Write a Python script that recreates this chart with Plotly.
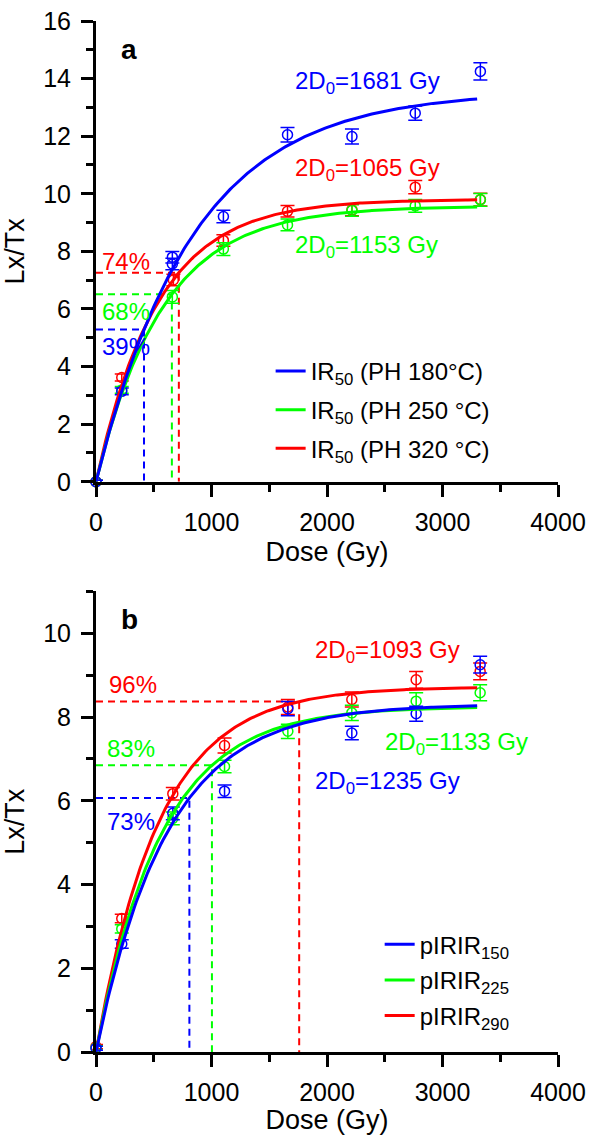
import numpy as np
import plotly.graph_objects as go

BLUE, GREEN, RED = "#0000FF", "#00FF00", "#FF0000"
FONT = "Liberation Sans, Arial, sans-serif"

# ---- panel a: IR50 signal after three preheat temperatures ----
blue_a_dose = [0, 223, 661, 661, 1103, 1658, 2216, 2764, 3328]
blue_a_lxtx = [0.0, 3.14, 7.80, 7.56, 9.21, 12.05, 11.99, 12.80, 14.25]
blue_a_err = [0.05, 0.12, 0.20, 0.20, 0.22, 0.25, 0.26, 0.25, 0.30]

green_a_dose = [0, 223, 661, 1103, 1658, 2216, 2764, 3328]
green_a_lxtx = [0.0, 3.19, 6.42, 8.08, 8.92, 9.42, 9.58, 9.79]
green_a_err = [0.05, 0.12, 0.22, 0.22, 0.20, 0.20, 0.22, 0.22]

red_a_dose = [0, 223, 670, 1103, 1658, 2216, 2764, 3328]
red_a_lxtx = [0.0, 3.62, 7.01, 8.38, 9.39, 9.44, 10.23, 9.80]
red_a_err = [0.05, 0.12, 0.20, 0.20, 0.20, 0.20, 0.23, 0.22]

two_d0_a = [1681, 1153, 1065]        # blue, green, red
sat_a = [13.56, 9.57, 9.81]          # saturation level of each fit
pct_a = [39, 68, 74]                 # natural signal as % of saturation
names_a = ["IR<sub>50</sub> (PH 180°C)", "IR<sub>50</sub> (PH 250 °C)",
           "IR<sub>50</sub> (PH 320 °C)"]

# ---- panel b: pIRIR signals ----
dose_b = [0, 223, 665, 1113, 1661, 2215, 2772, 3326]
blue_b_lxtx = [0.09, 2.58, 5.70, 6.23, 8.20, 7.62, 8.08, 9.25]
green_b_lxtx = [0.10, 2.94, 5.58, 6.82, 7.66, 8.10, 8.38, 8.58]
red_b_lxtx = [0.13, 3.19, 6.17, 7.32, 8.24, 8.42, 8.89, 9.09]
blue_b_err = [0.05, 0.10, 0.15, 0.15, 0.17, 0.16, 0.18, 0.20]
green_b_err = [0.05, 0.10, 0.15, 0.15, 0.17, 0.18, 0.20, 0.19]
red_b_err = [0.05, 0.10, 0.15, 0.18, 0.18, 0.18, 0.20, 0.20]

two_d0_b = [1235, 1133, 1093]
sat_b = [8.31, 8.25, 8.72]
pct_b = [73, 83, 96]
names_b = ["pIRIR<sub>150</sub>", "pIRIR<sub>225</sub>", "pIRIR<sub>290</sub>"]

colors = [BLUE, GREEN, RED]
fit_end = 3300


def sat_exp(d, a, d0):
    return a * (1.0 - np.exp(-np.asarray(d, dtype=float) / d0))


fig = go.Figure()


def add_panel(xa, ya, legend, series, two_d0, sat, pct, names):
    # dashed guide lines: horizontal from the axis to the curve, then down
    for c, a, tdd, p in zip(colors, sat, two_d0, pct):
        d0 = tdd / 2.0
        level = a * p / 100.0
        de = -d0 * np.log(1.0 - p / 100.0)
        fig.add_trace(go.Scatter(
            x=[0, de, de], y=[level, level, 0], mode="lines",
            line=dict(color=c, width=2, dash="7px,5px"),
            xaxis=xa, yaxis=ya, showlegend=False, hoverinfo="skip"))
    # data points with error bars (red first so blue sits on top)
    for (d, v, e), c in reversed(list(zip(series, colors))):
        fig.add_trace(go.Scatter(
            x=d, y=v, mode="markers",
            marker=dict(symbol="circle-open", size=10, color=c,
                        line=dict(width=1.5, color=c)),
            error_y=dict(type="data", array=e, visible=True, color=c,
                         thickness=1.5, width=7),
            cliponaxis=False, xaxis=xa, yaxis=ya, showlegend=False))
    # fitted saturating-exponential curves
    dd = np.linspace(0, fit_end, 200)
    for i in [2, 1, 0]:
        fig.add_trace(go.Scatter(
            x=dd, y=sat_exp(dd, sat[i], two_d0[i] / 2.0), mode="lines",
            line=dict(color=colors[i], width=3), name=names[i],
            legend=legend, legendgroup=f"{legend}{i}", legendrank=i + 1,
            xaxis=xa, yaxis=ya, cliponaxis=False, hoverinfo="skip"))


add_panel("x", "y", "legend",
          [(blue_a_dose, blue_a_lxtx, blue_a_err),
           (green_a_dose, green_a_lxtx, green_a_err),
           (red_a_dose, red_a_lxtx, red_a_err)],
          two_d0_a, sat_a, pct_a, names_a)
add_panel("x2", "y2", "legend2",
          [(dose_b, blue_b_lxtx, blue_b_err),
           (dose_b, green_b_lxtx, green_b_err),
           (dose_b, red_b_lxtx, red_b_err)],
          two_d0_b, sat_b, pct_b, names_b)

axis_style = dict(
    showline=True, linecolor="black", linewidth=3, mirror=False,
    ticks="outside", ticklen=12, tickwidth=3, tickcolor="black",
    showgrid=False, zeroline=False, automargin=False,
    tickfont=dict(size=25, color="black", family=FONT),
    title_font=dict(size=27, color="black", family=FONT),
)
x_style = dict(axis_style, range=[0, 4000], dtick=1000, tick0=0,
               ticklabelstandoff=4,
               minor=dict(dtick=500, ticks="outside", ticklen=7,
                          tickwidth=3, tickcolor="black"))


def y_style(rng):
    return dict(axis_style, range=rng, dtick=2, tick0=0, ticklabelstandoff=5,
                minor=dict(dtick=1, ticks="outside", ticklen=7,
                           tickwidth=3, tickcolor="black"))


legend_common = dict(xanchor="left", yanchor="top", bgcolor="rgba(0,0,0,0)",
                     font=dict(size=24, family=FONT), traceorder="grouped",
                     itemwidth=30)

fig.update_layout(
    width=590, height=1135,
    margin=dict(l=96, r=32, t=21, b=82.5),
    paper_bgcolor="white", plot_bgcolor="white",
    font=dict(family=FONT, color="black"),
    xaxis=dict(x_style, domain=[0, 1], anchor="y",
               title=dict(text="Dose (Gy)", standoff=8)),
    yaxis=dict(y_style([0, 16]), domain=[0.5531, 1], anchor="x",
               title=dict(text="Lx/Tx", standoff=12)),
    xaxis2=dict(x_style, domain=[0, 1], anchor="y2",
                title=dict(text="Dose (Gy)", standoff=8)),
    yaxis2=dict(y_style([0, 11]), domain=[0, 0.4467], anchor="x2",
                title=dict(text="Lx/Tx", standoff=12)),
    legend=dict(legend_common, x=0.378, y=0.682, tracegroupgap=4.5),
    legend2=dict(legend_common, x=0.614, y=0.126, tracegroupgap=1.5),
    showlegend=True,
)

ann = []


def label(text, x, y, ax, color, size=24, bold=False, xanchor="left"):
    ann.append(dict(
        text=f"<b>{text}</b>" if bold else text, x=x, y=y,
        xref=ax[0], yref=ax[1], xanchor=xanchor, yanchor="middle",
        showarrow=False, font=dict(size=size, color=color, family=FONT)))


# panel a annotations
label("a", 282, 15.0, ("x", "y"), "black", size=28, bold=True, xanchor="center")
for t, c, yy in zip(two_d0_a, colors, [13.85, 8.17, 10.83]):
    label(f"2D<sub>0</sub>={t} Gy", 1705, yy, ("x", "y"), c)
for p, c, yy in zip(pct_a, colors, [4.69, 5.91, 7.64]):
    label(f"{p}%", 35, yy, ("x", "y"), c)

# panel b annotations
label("b", 290, 10.32, ("x2", "y2"), "black", size=28, bold=True, xanchor="center")
for t, c, xx, yy in zip(two_d0_b, colors, [1883, 2489, 1883], [6.43, 7.38, 9.56]):
    label(f"2D<sub>0</sub>={t} Gy", xx, yy, ("x2", "y2"), c)
for p, c, xx, yy in zip(pct_b, colors, [74, 74, 91], [5.50, 7.26, 8.77]):
    label(f"{p}%", xx, yy, ("x2", "y2"), c)

fig.update_layout(annotations=ann)
fig.write_html("out.html")
